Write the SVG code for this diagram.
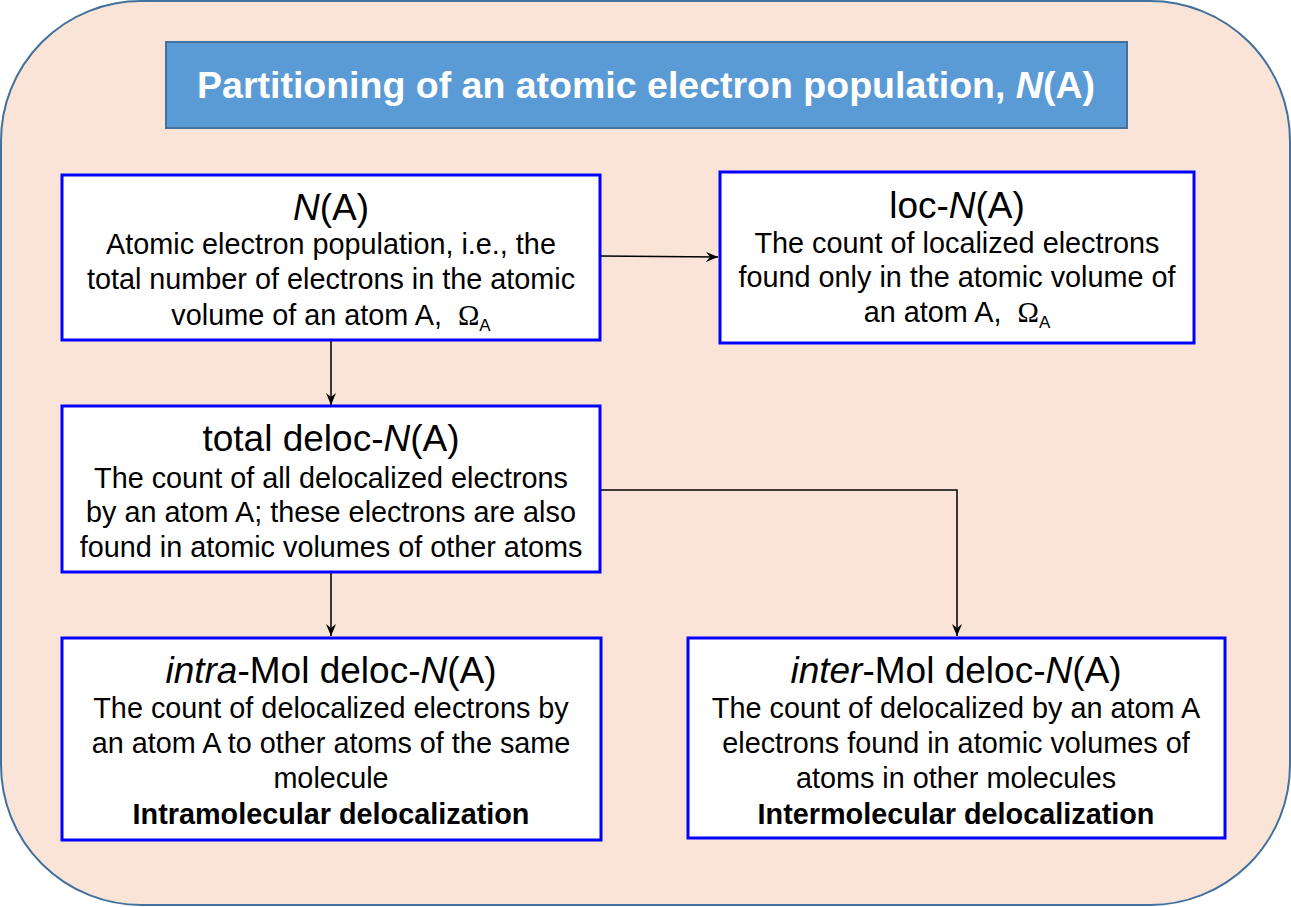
<svg xmlns="http://www.w3.org/2000/svg" width="1291" height="907" viewBox="0 0 1291 907">
<style>
.node rect{fill:#fff;stroke:#0000ff;stroke-width:3}
text{font-family:"Liberation Sans",Arial,sans-serif;fill:#000;text-anchor:middle}
.h{font-size:37px}
.b{font-size:28.8px}
.bb{font-size:28.8px;font-weight:bold}
.om{font-family:"Liberation Serif","Times New Roman",serif}
.conn path{fill:none;stroke:#000;stroke-width:1.5}
</style>
<defs>
<marker id="arr" viewBox="0 0 12 10" refX="12" refY="5" markerWidth="12" markerHeight="10" markerUnits="userSpaceOnUse" orient="auto">
<path d="M0,0 L12,5 L0,10 L4,5 z" fill="#000"/>
</marker>
</defs>
<rect id="background" x="1" y="1" width="1289" height="904" rx="140" ry="140" fill="#fae4d7" stroke="#41719c" stroke-width="2"/>
<g id="title">
<rect x="166" y="42" width="961" height="86" fill="#5b9bd5" stroke="#41719c" stroke-width="2"/>
<text x="646" y="98" style="font-size:37.5px;font-weight:bold;fill:#fff">Partitioning of an atomic electron population, <tspan font-style="italic">N</tspan>(A)</text>
</g>
<g class="conn" id="connectors">
<path d="M600,256 L718,257" marker-end="url(#arr)"/>
<path d="M331,341 L331,405" marker-end="url(#arr)"/>
<path d="M331,572 L331,636" marker-end="url(#arr)"/>
<path d="M600,490 L957,490 L957,636" marker-end="url(#arr)"/>
</g>
<g class="node" id="nA">
<rect x="62" y="175" width="538" height="165"/>
<text class="h" x="331" y="220"><tspan font-style="italic">N</tspan>(A)</text>
<text class="b" x="331" y="254">Atomic electron population, i.e., the</text>
<text class="b" x="331" y="289">total number of electrons in the atomic</text>
<text class="b" x="331" y="325">volume of an atom A,&#160; <tspan class="om">Ω</tspan><tspan font-size="17" dy="6">A</tspan></text>
</g>
<g class="node" id="locNA">
<rect x="720" y="172" width="474" height="171"/>
<text class="h" x="957" y="218">loc-<tspan font-style="italic">N</tspan>(A)</text>
<text class="b" x="957" y="253">The count of localized electrons</text>
<text class="b" x="957" y="287">found only in the atomic volume of</text>
<text class="b" x="957" y="322">an atom A,&#160; <tspan class="om">Ω</tspan><tspan font-size="17" dy="6">A</tspan></text>
</g>
<g class="node" id="totaldeloc">
<rect x="62" y="406" width="538" height="166"/>
<text class="h" x="331" y="451">total deloc-<tspan font-style="italic">N</tspan>(A)</text>
<text class="b" x="331" y="488">The count of all delocalized electrons</text>
<text class="b" x="331" y="522">by an atom A; these electrons are also</text>
<text class="b" x="331" y="557">found in atomic volumes of other atoms</text>
</g>
<g class="node" id="intra">
<rect x="62" y="638" width="539" height="202"/>
<text class="h" x="331" y="683"><tspan font-style="italic">intra</tspan>-Mol deloc-<tspan font-style="italic">N</tspan>(A)</text>
<text class="b" x="331" y="718">The count of delocalized electrons by</text>
<text class="b" x="331" y="753">an atom A to other atoms of the same</text>
<text class="b" x="331" y="788">molecule</text>
<text class="bb" x="331" y="824">Intramolecular delocalization</text>
</g>
<g class="node" id="inter">
<rect x="688" y="638" width="537" height="200"/>
<text class="h" x="956" y="683"><tspan font-style="italic">inter</tspan>-Mol deloc-<tspan font-style="italic">N</tspan>(A)</text>
<text class="b" x="956" y="718">The count of delocalized by an atom A</text>
<text class="b" x="956" y="753">electrons found in atomic volumes of</text>
<text class="b" x="956" y="788">atoms in other molecules</text>
<text class="bb" x="956" y="824">Intermolecular delocalization</text>
</g>
</svg>
